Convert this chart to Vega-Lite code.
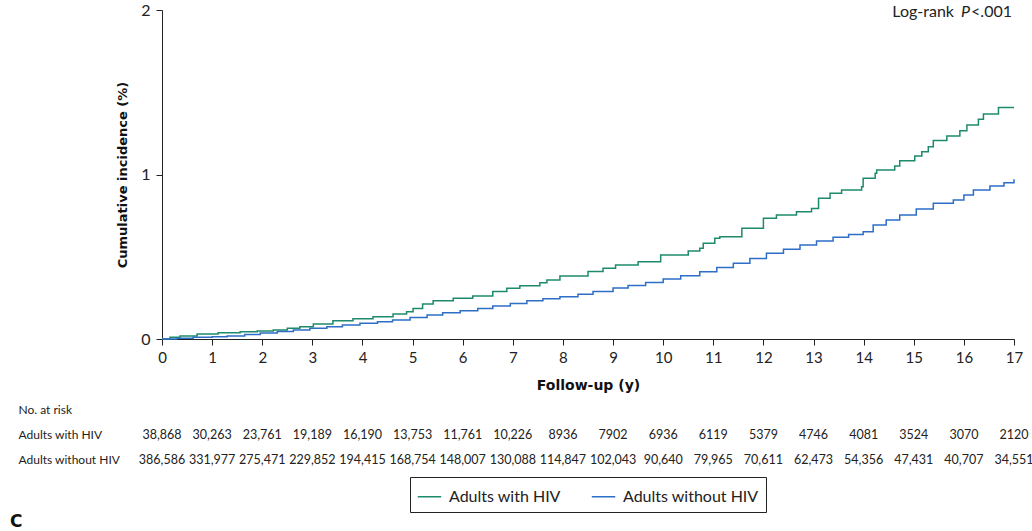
{
  "$schema": "https://vega.github.io/schema/vega-lite/v6.json",
  "padding": {"left": 10, "top": 2, "right": 5, "bottom": 2},
  "autosize": {"type": "pad"},
  "config": {
    "view": {"stroke": null},
    "font": "Lato",
    "concat": {"spacing": 5},
    "axis": {"labelColor": "#222", "titleColor": "#111", "domainColor": "#222", "tickColor": "#222", "grid": false}
  },
  "title": {"text": "C", "orient": "bottom", "anchor": "start", "fontSize": 17, "fontWeight": "bold", "font": "DejaVu Sans", "frame": "bounds", "offset": 1, "dx": -8, "color": "#111"},
  "datasets": {
    "curves": [
      {"group": "Adults with HIV", "year": 0, "ci": 0},
      {"group": "Adults with HIV", "year": 0.16, "ci": 0.01},
      {"group": "Adults with HIV", "year": 0.36, "ci": 0.018},
      {"group": "Adults with HIV", "year": 0.7, "ci": 0.03},
      {"group": "Adults with HIV", "year": 1.12, "ci": 0.038},
      {"group": "Adults with HIV", "year": 1.56, "ci": 0.044},
      {"group": "Adults with HIV", "year": 1.9, "ci": 0.049},
      {"group": "Adults with HIV", "year": 2.22, "ci": 0.055},
      {"group": "Adults with HIV", "year": 2.5, "ci": 0.065},
      {"group": "Adults with HIV", "year": 2.75, "ci": 0.075},
      {"group": "Adults with HIV", "year": 3.02, "ci": 0.091},
      {"group": "Adults with HIV", "year": 3.41, "ci": 0.111},
      {"group": "Adults with HIV", "year": 3.81, "ci": 0.123},
      {"group": "Adults with HIV", "year": 4.21, "ci": 0.136},
      {"group": "Adults with HIV", "year": 4.61, "ci": 0.152},
      {"group": "Adults with HIV", "year": 4.88, "ci": 0.166},
      {"group": "Adults with HIV", "year": 5.01, "ci": 0.186},
      {"group": "Adults with HIV", "year": 5.2, "ci": 0.213},
      {"group": "Adults with HIV", "year": 5.41, "ci": 0.233},
      {"group": "Adults with HIV", "year": 5.81, "ci": 0.247},
      {"group": "Adults with HIV", "year": 6.2, "ci": 0.261},
      {"group": "Adults with HIV", "year": 6.6, "ci": 0.288},
      {"group": "Adults with HIV", "year": 6.88, "ci": 0.308},
      {"group": "Adults with HIV", "year": 7.14, "ci": 0.324},
      {"group": "Adults with HIV", "year": 7.54, "ci": 0.342},
      {"group": "Adults with HIV", "year": 7.68, "ci": 0.359},
      {"group": "Adults with HIV", "year": 7.94, "ci": 0.383},
      {"group": "Adults with HIV", "year": 8.5, "ci": 0.41},
      {"group": "Adults with HIV", "year": 8.8, "ci": 0.43},
      {"group": "Adults with HIV", "year": 9.05, "ci": 0.45},
      {"group": "Adults with HIV", "year": 9.5, "ci": 0.47},
      {"group": "Adults with HIV", "year": 9.95, "ci": 0.51},
      {"group": "Adults with HIV", "year": 10.5, "ci": 0.535},
      {"group": "Adults with HIV", "year": 10.73, "ci": 0.551},
      {"group": "Adults with HIV", "year": 10.8, "ci": 0.582},
      {"group": "Adults with HIV", "year": 11.03, "ci": 0.612},
      {"group": "Adults with HIV", "year": 11.13, "ci": 0.622},
      {"group": "Adults with HIV", "year": 11.57, "ci": 0.673},
      {"group": "Adults with HIV", "year": 12.0, "ci": 0.734},
      {"group": "Adults with HIV", "year": 12.26, "ci": 0.754},
      {"group": "Adults with HIV", "year": 12.66, "ci": 0.774},
      {"group": "Adults with HIV", "year": 12.96, "ci": 0.794},
      {"group": "Adults with HIV", "year": 13.1, "ci": 0.855},
      {"group": "Adults with HIV", "year": 13.33, "ci": 0.886},
      {"group": "Adults with HIV", "year": 13.56, "ci": 0.906},
      {"group": "Adults with HIV", "year": 13.96, "ci": 0.926},
      {"group": "Adults with HIV", "year": 13.99, "ci": 0.977},
      {"group": "Adults with HIV", "year": 14.23, "ci": 1.007},
      {"group": "Adults with HIV", "year": 14.26, "ci": 1.027},
      {"group": "Adults with HIV", "year": 14.62, "ci": 1.052},
      {"group": "Adults with HIV", "year": 14.72, "ci": 1.084},
      {"group": "Adults with HIV", "year": 15.02, "ci": 1.112},
      {"group": "Adults with HIV", "year": 15.16, "ci": 1.139},
      {"group": "Adults with HIV", "year": 15.29, "ci": 1.169},
      {"group": "Adults with HIV", "year": 15.39, "ci": 1.206},
      {"group": "Adults with HIV", "year": 15.66, "ci": 1.234},
      {"group": "Adults with HIV", "year": 15.92, "ci": 1.266},
      {"group": "Adults with HIV", "year": 16.06, "ci": 1.301},
      {"group": "Adults with HIV", "year": 16.29, "ci": 1.336},
      {"group": "Adults with HIV", "year": 16.39, "ci": 1.368},
      {"group": "Adults with HIV", "year": 16.69, "ci": 1.408},
      {"group": "Adults with HIV", "year": 17.0, "ci": 1.408},
      {"group": "Adults without HIV", "year": 0, "ci": 0},
      {"group": "Adults without HIV", "year": 0.3, "ci": 0.004},
      {"group": "Adults without HIV", "year": 0.62, "ci": 0.01},
      {"group": "Adults without HIV", "year": 1.0, "ci": 0.014},
      {"group": "Adults without HIV", "year": 1.3, "ci": 0.018},
      {"group": "Adults without HIV", "year": 1.65, "ci": 0.027},
      {"group": "Adults without HIV", "year": 1.96, "ci": 0.036},
      {"group": "Adults without HIV", "year": 2.3, "ci": 0.045},
      {"group": "Adults without HIV", "year": 2.62, "ci": 0.055},
      {"group": "Adults without HIV", "year": 2.95, "ci": 0.065},
      {"group": "Adults without HIV", "year": 3.29, "ci": 0.075},
      {"group": "Adults without HIV", "year": 3.6, "ci": 0.085},
      {"group": "Adults without HIV", "year": 3.95, "ci": 0.095},
      {"group": "Adults without HIV", "year": 4.3, "ci": 0.105},
      {"group": "Adults without HIV", "year": 4.6, "ci": 0.115},
      {"group": "Adults without HIV", "year": 4.95, "ci": 0.13},
      {"group": "Adults without HIV", "year": 5.29, "ci": 0.146},
      {"group": "Adults without HIV", "year": 5.6, "ci": 0.159},
      {"group": "Adults without HIV", "year": 5.95, "ci": 0.172},
      {"group": "Adults without HIV", "year": 6.3, "ci": 0.186},
      {"group": "Adults without HIV", "year": 6.6, "ci": 0.2},
      {"group": "Adults without HIV", "year": 6.95, "ci": 0.216},
      {"group": "Adults without HIV", "year": 7.28, "ci": 0.233},
      {"group": "Adults without HIV", "year": 7.6, "ci": 0.245},
      {"group": "Adults without HIV", "year": 7.94, "ci": 0.257},
      {"group": "Adults without HIV", "year": 8.3, "ci": 0.272},
      {"group": "Adults without HIV", "year": 8.6, "ci": 0.288},
      {"group": "Adults without HIV", "year": 9.0, "ci": 0.31},
      {"group": "Adults without HIV", "year": 9.3, "ci": 0.325},
      {"group": "Adults without HIV", "year": 9.65, "ci": 0.343},
      {"group": "Adults without HIV", "year": 10.0, "ci": 0.365},
      {"group": "Adults without HIV", "year": 10.35, "ci": 0.385},
      {"group": "Adults without HIV", "year": 10.73, "ci": 0.409},
      {"group": "Adults without HIV", "year": 11.07, "ci": 0.435},
      {"group": "Adults without HIV", "year": 11.4, "ci": 0.46},
      {"group": "Adults without HIV", "year": 11.73, "ci": 0.49},
      {"group": "Adults without HIV", "year": 12.06, "ci": 0.521},
      {"group": "Adults without HIV", "year": 12.4, "ci": 0.546},
      {"group": "Adults without HIV", "year": 12.73, "ci": 0.571},
      {"group": "Adults without HIV", "year": 13.06, "ci": 0.595},
      {"group": "Adults without HIV", "year": 13.39, "ci": 0.618},
      {"group": "Adults without HIV", "year": 13.7, "ci": 0.635},
      {"group": "Adults without HIV", "year": 13.99, "ci": 0.652},
      {"group": "Adults without HIV", "year": 14.19, "ci": 0.693},
      {"group": "Adults without HIV", "year": 14.45, "ci": 0.724},
      {"group": "Adults without HIV", "year": 14.72, "ci": 0.754},
      {"group": "Adults without HIV", "year": 15.05, "ci": 0.79},
      {"group": "Adults without HIV", "year": 15.39, "ci": 0.825},
      {"group": "Adults without HIV", "year": 15.79, "ci": 0.845},
      {"group": "Adults without HIV", "year": 16.0, "ci": 0.875},
      {"group": "Adults without HIV", "year": 16.19, "ci": 0.906},
      {"group": "Adults without HIV", "year": 16.52, "ci": 0.93},
      {"group": "Adults without HIV", "year": 16.8, "ci": 0.95},
      {"group": "Adults without HIV", "year": 17.0, "ci": 0.971}
    ],
    "risk": [
      {"row": "Adults with HIV", "year": 0, "n": "38,868"},
      {"row": "Adults with HIV", "year": 1, "n": "30,263"},
      {"row": "Adults with HIV", "year": 2, "n": "23,761"},
      {"row": "Adults with HIV", "year": 3, "n": "19,189"},
      {"row": "Adults with HIV", "year": 4, "n": "16,190"},
      {"row": "Adults with HIV", "year": 5, "n": "13,753"},
      {"row": "Adults with HIV", "year": 6, "n": "11,761"},
      {"row": "Adults with HIV", "year": 7, "n": "10,226"},
      {"row": "Adults with HIV", "year": 8, "n": "8936"},
      {"row": "Adults with HIV", "year": 9, "n": "7902"},
      {"row": "Adults with HIV", "year": 10, "n": "6936"},
      {"row": "Adults with HIV", "year": 11, "n": "6119"},
      {"row": "Adults with HIV", "year": 12, "n": "5379"},
      {"row": "Adults with HIV", "year": 13, "n": "4746"},
      {"row": "Adults with HIV", "year": 14, "n": "4081"},
      {"row": "Adults with HIV", "year": 15, "n": "3524"},
      {"row": "Adults with HIV", "year": 16, "n": "3070"},
      {"row": "Adults with HIV", "year": 17, "n": "2120"},
      {"row": "Adults without HIV", "year": 0, "n": "386,586"},
      {"row": "Adults without HIV", "year": 1, "n": "331,977"},
      {"row": "Adults without HIV", "year": 2, "n": "275,471"},
      {"row": "Adults without HIV", "year": 3, "n": "229,852"},
      {"row": "Adults without HIV", "year": 4, "n": "194,415"},
      {"row": "Adults without HIV", "year": 5, "n": "168,754"},
      {"row": "Adults without HIV", "year": 6, "n": "148,007"},
      {"row": "Adults without HIV", "year": 7, "n": "130,088"},
      {"row": "Adults without HIV", "year": 8, "n": "114,847"},
      {"row": "Adults without HIV", "year": 9, "n": "102,043"},
      {"row": "Adults without HIV", "year": 10, "n": "90,640"},
      {"row": "Adults without HIV", "year": 11, "n": "79,965"},
      {"row": "Adults without HIV", "year": 12, "n": "70,611"},
      {"row": "Adults without HIV", "year": 13, "n": "62,473"},
      {"row": "Adults without HIV", "year": 14, "n": "54,356"},
      {"row": "Adults without HIV", "year": 15, "n": "47,431"},
      {"row": "Adults without HIV", "year": 16, "n": "40,707"},
      {"row": "Adults without HIV", "year": 17, "n": "34,551"}
    ],
    "note": [{"part": "Log-rank"}]
  },
  "vconcat": [
    {
      "width": 852,
      "height": 329,
      "layer": [
        {
          "data": {"name": "curves"},
          "mark": {"type": "line", "interpolate": "step-after", "strokeWidth": 1.5},
          "encoding": {
            "x": {
              "field": "year", "type": "quantitative",
              "scale": {"domain": [0, 17], "nice": false, "zero": false},
              "title": "Follow-up (y)",
              "axis": {"values": [0,1,2,3,4,5,6,7,8,9,10,11,12,13,14,15,16,17], "labelExpr": "toString(datum.value)", "tickSize": 6, "labelPadding": 5, "labelFontSize": 15, "labelFont": "Lato", "titleFont": "DejaVu Sans", "titleFontSize": 14, "titleFontWeight": "bold", "titlePadding": 13, "labelFlush": false, "labelOverlap": false}
            },
            "y": {
              "field": "ci", "type": "quantitative",
              "scale": {"domain": [0, 2], "nice": false},
              "title": "Cumulative incidence (%)",
              "axis": {"values": [0, 1, 2], "labelExpr": "toString(datum.value)", "tickSize": 6, "labelPadding": 6, "labelFontSize": 16, "labelFont": "Lato", "titleFont": "DejaVu Sans", "titleFontSize": 13, "titleFontWeight": "bold", "titlePadding": 11, "labelFlush": false, "labelOverlap": false}
            },
            "color": {
              "field": "group", "type": "nominal",
              "scale": {"domain": ["Adults with HIV", "Adults without HIV"], "range": ["#1e8a6c", "#2d6ec6"]},
              "legend": {
                "orient": "none", "legendX": 248, "legendY": 467, "direction": "horizontal", "title": null,
                "strokeColor": "#222", "padding": 7, "symbolType": "stroke", "symbolSize": 550, "symbolStrokeWidth": 1.5,
                "labelFontSize": 16, "labelFont": "Lato", "labelColor": "#222", "columnPadding": 27, "labelOffset": 7
              }
            }
          }
        },
        {
          "data": {"name": "note"},
          "mark": {"type": "text", "align": "right", "baseline": "middle", "fontSize": 16, "font": "Lato", "color": "#222", "dx": -2, "dy": 2, "text": "<.001"},
          "encoding": {"x": {"datum": 17, "type": "quantitative"}, "y": {"datum": 2, "type": "quantitative"}}
        },
        {
          "data": {"name": "note"},
          "mark": {"type": "text", "align": "right", "baseline": "middle", "fontSize": 16, "font": "Lato", "fontStyle": "italic", "color": "#222", "dx": -44, "dy": 2, "text": "P"},
          "encoding": {"x": {"datum": 17, "type": "quantitative"}, "y": {"datum": 2, "type": "quantitative"}}
        },
        {
          "data": {"name": "note"},
          "mark": {"type": "text", "align": "right", "baseline": "middle", "fontSize": 16, "font": "Lato", "color": "#222", "dx": -60, "dy": 2},
          "encoding": {"x": {"datum": 17, "type": "quantitative"}, "y": {"datum": 2, "type": "quantitative"}, "text": {"field": "part"}}
        }
      ]
    },
    {
      "width": 852,
      "height": 75,
      "data": {"name": "risk"},
      "mark": {"type": "text", "fontSize": 12.5, "font": "Lato", "color": "#222"},
      "encoding": {
        "x": {"field": "year", "type": "quantitative", "scale": {"domain": [0, 17], "nice": false, "zero": false}, "axis": null},
        "y": {
          "field": "row", "type": "nominal",
          "scale": {"domain": ["No. at risk", "Adults with HIV", "Adults without HIV"]},
          "axis": {"title": null, "labelAlign": "left", "labelPadding": 144, "ticks": false, "domain": false, "labelFontSize": 12, "labelFont": "Lato", "labelColor": "#222"}
        },
        "text": {"field": "n"}
      }
    }
  ]
}
